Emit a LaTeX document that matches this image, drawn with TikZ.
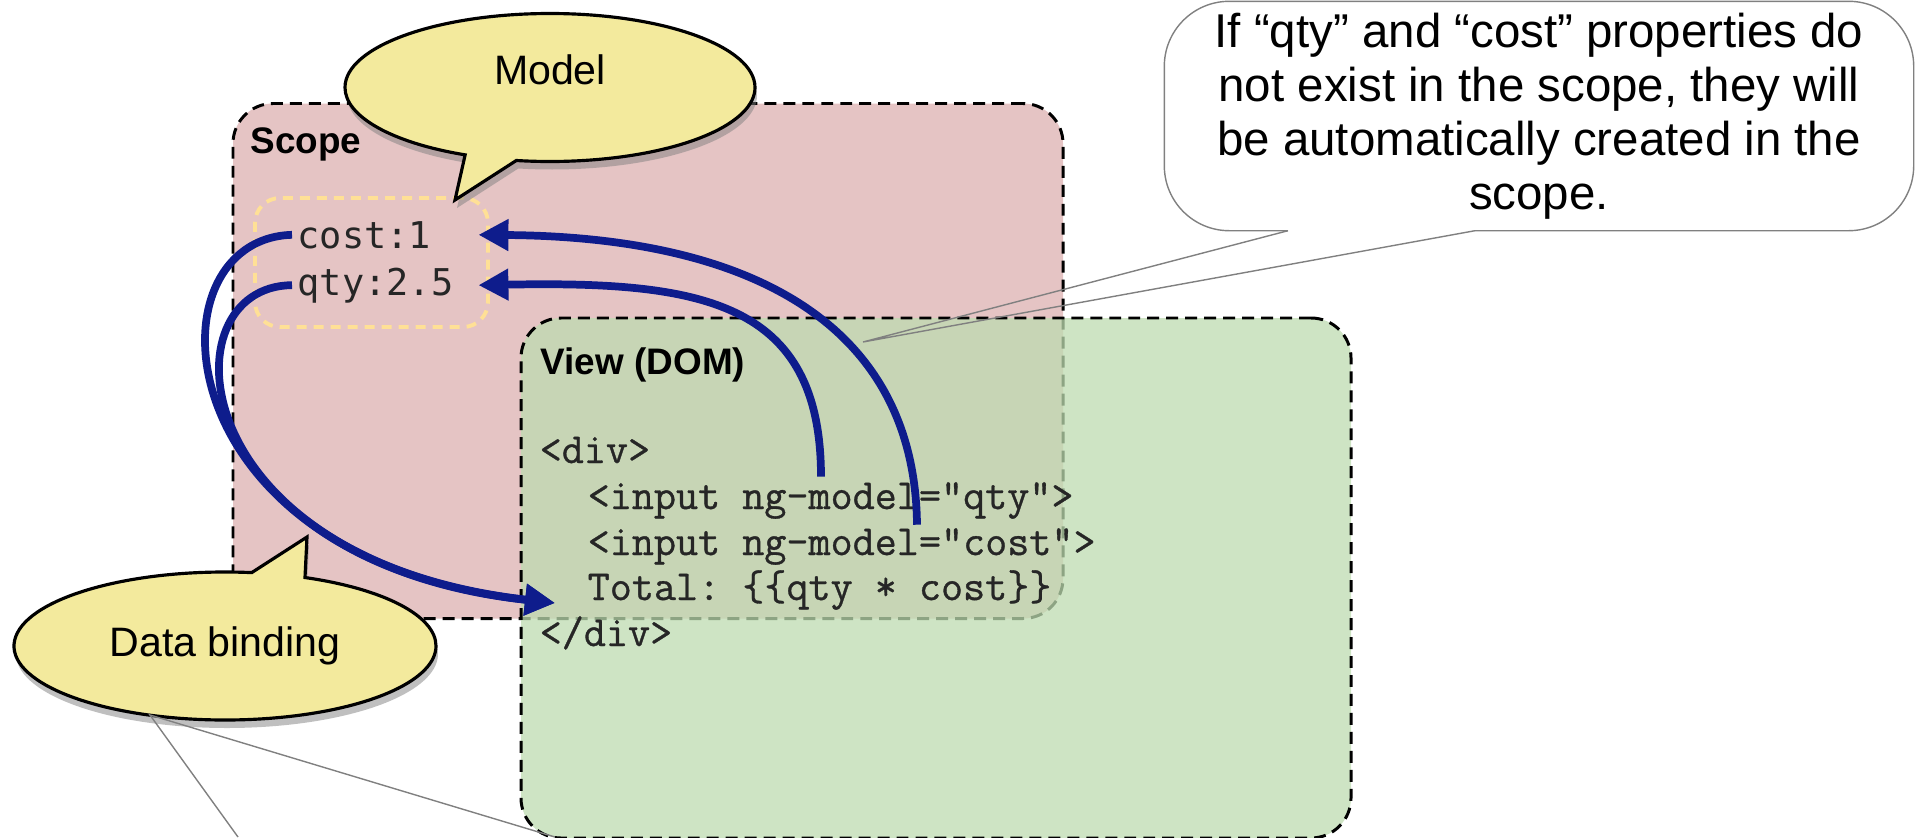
\documentclass[tikz,border=0pt]{standalone}
\usepackage{fontspec}
\setmainfont{Liberation Sans}
\setmonofont{Latin Modern Mono}[FakeBold=0.8]
\newfontfamily\valuefont{DejaVu Sans Mono}
\usetikzlibrary{positioning,arrows.meta,shapes.callouts,shadows}
\definecolor{scopepink}{RGB}{229,196,196}
\definecolor{viewgreen}{RGB}{189,219,176}
\definecolor{valueyellow}{RGB}{255,224,150}
\definecolor{bubbleyellow}{RGB}{243,234,157}
\definecolor{bindblue}{RGB}{14,28,140}
\definecolor{notegray}{RGB}{128,128,128}

\begin{document}
\begin{tikzpicture}[
  every node/.style={inner sep=0pt},
  region/.style={draw=black, line width=0.85pt, dash pattern=on 3.4pt off 2pt,
                 rounded corners=0.4cm, minimum width=8.3cm, minimum height=5.15cm},
  boxtitle/.style={anchor=base west, font=\bfseries\fontsize{10.5}{12}\selectfont},
  valtext/.style={anchor=base west, inner sep=0.05cm, text width=1.75cm,
                  font=\valuefont\fontsize{10.5}{12}\selectfont, text=black!85},
  codeline/.style={anchor=base west, font=\ttfamily\fontsize{12.2}{14}\selectfont, text=black!85},
  bubble/.style={ellipse callout, draw=black, line width=0.9pt, fill=bubbleyellow,
                 minimum width=4.22cm, minimum height=1.48cm,
                 font=\fontsize{11.7}{14}\selectfont,
                 drop shadow={shadow xshift=0.02cm, shadow yshift=-0.08cm, opacity=0.5}},
  bind/.style={draw=bindblue, line width=2.2pt, -{Triangle[length=0.3cm,width=0.3cm]}},
  notetext/.style={align=center, minimum width=7.48cm, minimum height=2.28cm,
                   font=\fontsize{13.5}{15.4}\selectfont}
]
  \useasboundingbox (0,0) rectangle (19.2,-8.37);

  % scope (model side)
  \node[region, fill=scopepink] (scope) at (6.48,-3.61) {};
  \node[boxtitle] (scopetitle) at (2.50,-1.53) {Scope};
  \node[draw=valueyellow, line width=1.1pt, dash pattern=on 0.1cm off 0.07cm,
        rounded corners=0.25cm, minimum width=2.33cm, minimum height=1.29cm] (values) at (3.715,-2.625) {};
  \node[valtext] (cost) at (2.92,-2.48) {cost:1};
  \node[valtext] (qty)  at (2.92,-2.95) {qty:2.5};

  % view (DOM side)
  \node[region, minimum height=5.2cm, fill=viewgreen, fill opacity=0.75] (view) at (9.36,-5.78) {};
  \node[boxtitle] (viewtitle) at (5.40,-3.74) {View (DOM)};
  \node[codeline] (divopen)  at (5.39,-4.63) {<div>};
  \node[codeline] (inqty)    at (5.87,-5.09) {<input ng-model="qty">};
  \node[codeline] (incost)   at (5.87,-5.55) {<input ng-model="cost">};
  \node[codeline] (total)    at (5.87,-6.00) {Total: \{\{qty * cost\}\}};
  \node[codeline] (divclose) at (5.39,-6.46) {</div>};

  % callouts
  \coordinate (modeltip) at (4.55,-2.00);
  \coordinate (bindingtip) at (3.07,-5.37);
  \node[bubble, minimum width=4.1cm, callout absolute pointer={(modeltip)}] (model) at (5.50,-0.875) {\raisebox{0.36cm}{Model}};
  \node[bubble, callout absolute pointer={(bindingtip)}] (binding) at (2.25,-6.46) {Data binding};

  \coordinate (notetip) at (8.63,-3.42);
  \node[notetext] (note) at (15.39,-1.16) {If “qty” and “cost” properties do\\not exist in the scope, they will\\be automatically created in the\\scope.};
  \draw[notegray, line width=0.4pt, rounded corners=0.65cm] (note.south west) rectangle (note.north east);
  \draw[white, line width=1.2pt] ([xshift=-2.51cm]note.south) -- ([xshift=-0.64cm]note.south);
  \draw[notegray, line width=0.4pt] ([xshift=-2.51cm]note.south) -- (notetip) -- ([xshift=-0.64cm]note.south);

  \coordinate (bindtail) at (1.50,-7.15);
  \coordinate (tailleft) at (2.38,-8.37);
  \coordinate (tailright) at (5.55,-8.37);
  \draw[notegray, line width=0.4pt] (tailleft) -- (bindtail) -- (tailright);

  % bindings
  \draw[bind] ([xshift=2.34cm,yshift=0.05cm]inqty.north west) .. controls (8.21,-3.0) and (7.0,-2.81) .. (qty.east);
  \draw[bind] ([xshift=3.30cm,yshift=0.03cm]incost.north west) .. controls (9.15,-3.3) and (7.6,-2.37) .. (cost.east);
  \draw[bind] (cost.west) .. controls (1.45,-2.39) and (1.6,-5.6) .. ([xshift=-0.32cm,yshift=-0.13cm]total.west);
  \draw[bind] (qty.west) .. controls (1.65,-2.86) and (1.8,-5.6) .. ([xshift=-0.32cm,yshift=-0.13cm]total.west);
\end{tikzpicture}
\end{document}
